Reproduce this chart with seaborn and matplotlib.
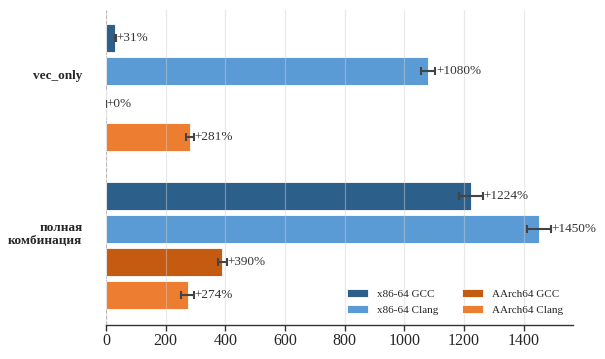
import matplotlib
matplotlib.use("Agg")
import matplotlib.pyplot as plt
import seaborn as sns
import pandas as pd

categories = ["vec_only", "полная\nкомбинация"]
series = ["x86-64 GCC", "x86-64 Clang", "AArch64 GCC", "AArch64 Clang"]
values = {
    "x86-64 GCC": [31, 1224],
    "x86-64 Clang": [1080, 1450],
    "AArch64 GCC": [0, 390],
    "AArch64 Clang": [281, 274],
}
errors = {
    "x86-64 GCC": [2, 40],
    "x86-64 Clang": [24, 40],
    "AArch64 GCC": [0.5, 15],
    "AArch64 Clang": [14, 21],
}
colors = ["#2d5f8b", "#5b9bd5", "#c55a11", "#ed7d31"]
xticks = [0, 200, 400, 600, 800, 1000, 1200, 1400]

rows = []
for s in series:
    for c, v, e in zip(categories, values[s], errors[s]):
        rows.append({"cat": c, "series": s, "value": v, "err": e})
df = pd.DataFrame(rows)

sns.set_theme(style="white")
plt.rcParams["font.family"] = ["Liberation Serif", "DejaVu Serif"]

fig = plt.figure(figsize=(6.05, 3.59), dpi=100)
ax = fig.add_axes([106 / 605, 1 - 325 / 359, (573 - 106) / 605, (325 - 10) / 359])

sns.barplot(data=df, y="cat", x="value", hue="series", order=categories,
            hue_order=series, palette=colors, saturation=1, orient="h",
            errorbar=None, width=0.83, gap=0.15, ax=ax, edgecolor="white",
            linewidth=0.6, zorder=2)

for i, s in enumerate(series):
    sub = df[df.series == s]
    for j, c in enumerate(categories):
        row = sub[sub.cat == c].iloc[0]
        p = ax.containers[i][j]
        yc = p.get_y() + p.get_height() / 2
        ax.errorbar(row.value, yc, xerr=row.err, fmt="none", ecolor="#444444",
                    elinewidth=1.5, capsize=3, capthick=1.5, zorder=4)
        ax.text(row.value + row.err + 2, yc, f"+{row.value}%", va="center",
                ha="left", fontsize=9.5, color="#333333", zorder=5)

ax.axvline(0, color="#aaaaaa", linestyle="--", linewidth=0.8, zorder=1)
ax.set_xlim(0, 1565)
ax.set_ylim(1.503, -0.49)
ax.set_yticks([-0.085, 0.915])
ax.set_yticklabels(categories, fontsize=9.5, fontweight="bold")
ax.set_xticks(xticks)
ax.set_xticklabels([str(t) for t in xticks], fontsize=11.5)
ax.tick_params(axis="y", length=0, pad=17)
ax.tick_params(axis="x", length=4, width=1, color="#333333", direction="out",
               bottom=True, pad=2)
for lbl in ax.get_yticklabels():
    lbl.set_horizontalalignment("right")
    lbl.set_multialignment("right")
ax.set_xlabel("")
ax.set_ylabel("")
ax.grid(axis="x", color="#d0d0d0", alpha=0.45, linewidth=0.9, zorder=3)
ax.set_axisbelow(False)
for side in ["top", "right", "left"]:
    ax.spines[side].set_visible(False)
ax.spines["bottom"].set_color("#333333")
ax.spines["bottom"].set_linewidth(1)

leg = ax.legend(loc="lower right", ncol=2, frameon=False, fontsize=8,
                handlelength=1.9, handleheight=0.75, handletextpad=0.8,
                columnspacing=2.1, labelspacing=0.55,
                bbox_to_anchor=(1.0, 0.0))

fig.savefig("out.png", dpi=100)
